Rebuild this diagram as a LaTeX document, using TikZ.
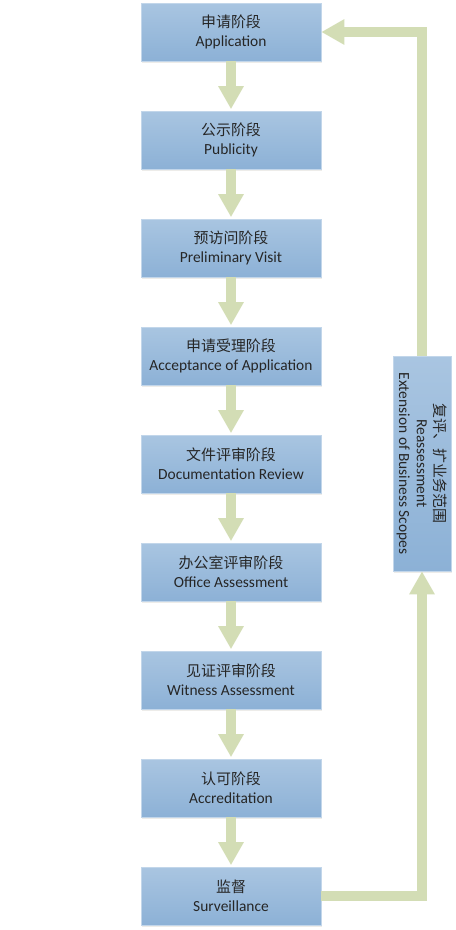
\documentclass[tikz,border=0pt]{standalone}
\usepackage{fontspec}
\setmainfont{Carlito}
\newfontfamily\cjk{Noto Sans CJK SC}
\usepackage{tikz}
\usetikzlibrary{arrows.meta,shadows}
\definecolor{boxtop}{HTML}{A9C5E1}
\definecolor{boxbot}{HTML}{8CB1D6}
\definecolor{boxedge}{HTML}{C2D6EA}
\definecolor{flowgreen}{HTML}{D3DDB5}
\newcommand{\twoline}[2]{{\cjk\fontsize{15}{19}\selectfont #1}\\#2}

\tikzset{
  stagebox/.style={rectangle, minimum width=180bp, minimum height=58bp,
    top color=boxtop, bottom color=boxbot, draw=boxedge, line width=0.6pt,
    align=center, text=black!85, font=\fontsize{15.5}{19}\selectfont,
    drop shadow={shadow xshift=1bp, shadow yshift=-1.5bp, fill=yellow!12!black!12, opacity=.8}},
  flow/.style={color=flowgreen, line width=10bp, -{Triangle[width=24bp,length=23bp]}}
}

\begin{document}
\begin{tikzpicture}[x=1bp,y=-1bp]
 \useasboundingbox (0,0) rectangle (456,930);
  \draw (231,32) node[stagebox] (app) {\twoline{申请阶段}{Application}};
  \draw (231,140) node[stagebox] (pub) {\twoline{公示阶段}{Publicity}};
  \draw (231,248) node[stagebox] (pre) {\twoline{预访问阶段}{Preliminary Visit}};
  \draw (231,356) node[stagebox] (acc) {\twoline{申请受理阶段}{Acceptance of Application}};
  \draw (231,464) node[stagebox] (doc) {\twoline{文件评审阶段}{Documentation Review}};
  \draw (231,572) node[stagebox] (off) {\twoline{办公室评审阶段}{Office Assessment}};
  \draw (231,680) node[stagebox] (wit) {\twoline{见证评审阶段}{Witness Assessment}};
  \draw (231,788) node[stagebox] (accr) {\twoline{认可阶段}{Accreditation}};
  \draw (231,896) node[stagebox] (sv) {\twoline{监督}{Surveillance}};

  % reassessment box, text read from top to bottom
  \draw (422,463.5) node[stagebox, rotate=-90, minimum width=215bp, minimum height=58bp,
    font=\fontsize{15.5}{18}\selectfont] (rev)
    {{\cjk\fontsize{15}{18}\selectfont 复评、扩业务范围}\\Reassessment\\Extension of Business Scopes};

     \foreach \a/\b in {app/pub,pub/pre,pre/acc,acc/doc,doc/off,off/wit,wit/accr,accr/sv}
       \draw[flow, shorten >=1.5bp] (\a) -- (\b);

     \draw[flow] (sv.east) -| (rev.east);
     \draw[flow] (rev.west) |- (app.east);

\end{tikzpicture}
\end{document}
